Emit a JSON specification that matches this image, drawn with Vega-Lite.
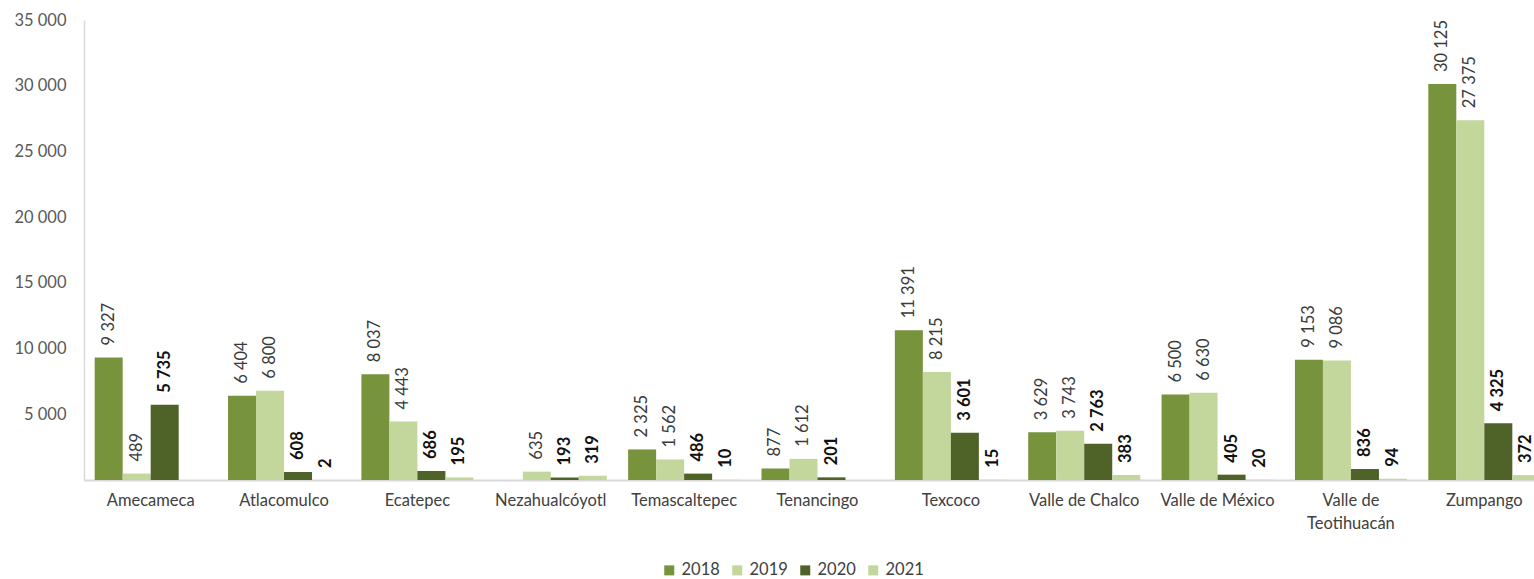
{
  "$schema": "https://vega.github.io/schema/vega-lite/v6.json",
  "autosize": {"type": "none"},
  "padding": {"left": 84, "top": 20, "right": 0, "bottom": 99},
  "width": 1450,
  "height": 460,
  "background": "white",
  "config": {
    "view": {"stroke": null},
    "locale": {"number": {"decimal": ",", "thousands": " ", "grouping": [3], "currency": ["$", ""]}},
    "font": "Lato"
  },
  "data": {
    "values": [
      {"municipio": "Amecameca", "year": "2018", "value": 9327},
      {"municipio": "Amecameca", "year": "2019", "value": 489},
      {"municipio": "Amecameca", "year": "2020", "value": 5735},
      {"municipio": "Atlacomulco", "year": "2018", "value": 6404},
      {"municipio": "Atlacomulco", "year": "2019", "value": 6800},
      {"municipio": "Atlacomulco", "year": "2020", "value": 608},
      {"municipio": "Atlacomulco", "year": "2021", "value": 2},
      {"municipio": "Ecatepec", "year": "2018", "value": 8037},
      {"municipio": "Ecatepec", "year": "2019", "value": 4443},
      {"municipio": "Ecatepec", "year": "2020", "value": 686},
      {"municipio": "Ecatepec", "year": "2021", "value": 195},
      {"municipio": "Nezahualcóyotl", "year": "2019", "value": 635},
      {"municipio": "Nezahualcóyotl", "year": "2020", "value": 193},
      {"municipio": "Nezahualcóyotl", "year": "2021", "value": 319},
      {"municipio": "Temascaltepec", "year": "2018", "value": 2325},
      {"municipio": "Temascaltepec", "year": "2019", "value": 1562},
      {"municipio": "Temascaltepec", "year": "2020", "value": 486},
      {"municipio": "Temascaltepec", "year": "2021", "value": 10},
      {"municipio": "Tenancingo", "year": "2018", "value": 877},
      {"municipio": "Tenancingo", "year": "2019", "value": 1612},
      {"municipio": "Tenancingo", "year": "2020", "value": 201},
      {"municipio": "Texcoco", "year": "2018", "value": 11391},
      {"municipio": "Texcoco", "year": "2019", "value": 8215},
      {"municipio": "Texcoco", "year": "2020", "value": 3601},
      {"municipio": "Texcoco", "year": "2021", "value": 15},
      {"municipio": "Valle de Chalco", "year": "2018", "value": 3629},
      {"municipio": "Valle de Chalco", "year": "2019", "value": 3743},
      {"municipio": "Valle de Chalco", "year": "2020", "value": 2763},
      {"municipio": "Valle de Chalco", "year": "2021", "value": 383},
      {"municipio": "Valle de México", "year": "2018", "value": 6500},
      {"municipio": "Valle de México", "year": "2019", "value": 6630},
      {"municipio": "Valle de México", "year": "2020", "value": 405},
      {"municipio": "Valle de México", "year": "2021", "value": 20},
      {"municipio": "Valle de Teotihuacán", "year": "2018", "value": 9153},
      {"municipio": "Valle de Teotihuacán", "year": "2019", "value": 9086},
      {"municipio": "Valle de Teotihuacán", "year": "2020", "value": 836},
      {"municipio": "Valle de Teotihuacán", "year": "2021", "value": 94},
      {"municipio": "Zumpango", "year": "2018", "value": 30125},
      {"municipio": "Zumpango", "year": "2019", "value": 27375},
      {"municipio": "Zumpango", "year": "2020", "value": 4325},
      {"municipio": "Zumpango", "year": "2021", "value": 372}
    ]
  },
  "encoding": {
    "x": {
      "field": "municipio",
      "type": "nominal",
      "sort": null,
      "scale": {"range": [0, 1467], "paddingInner": 0.16, "paddingOuter": 0.08},
      "axis": {
        "title": null,
        "labelAngle": 0,
        "ticks": false,
        "domainColor": "#D9D9D9",
        "domainWidth": 2,
        "labelFont": "Lato",
        "labelFontSize": 16.5,
        "labelColor": "#404040",
        "labelPadding": 12,
        "labelLineHeight": 23,
        "labelOverlap": false,
        "labelBound": false,
        "labelLimit": 0,
        "labelExpr": "datum.label == 'Valle de Teotihuacán' ? ['Valle de', 'Teotihuacán'] : datum.label"
      }
    },
    "xOffset": {
      "field": "year",
      "type": "nominal",
      "sort": ["2018", "2019", "2020", "2021"],
      "scale": {"paddingInner": 0, "paddingOuter": 0}
    },
    "y": {
      "field": "value",
      "type": "quantitative",
      "scale": {"domain": [0, 35000], "nice": false},
      "axis": {
        "title": null,
        "values": [0, 5000, 10000, 15000, 20000, 25000, 30000, 35000],
        "format": ",d",
        "labelExpr": "datum.value === 0 ? '' : datum.label",
        "grid": false,
        "ticks": false,
        "domainColor": "#D9D9D9",
        "domainWidth": 1.5,
        "labelFont": "Lato",
        "labelFontSize": 16.5,
        "labelColor": "#595959",
        "labelPadding": 18
      }
    }
  },
  "layer": [
    {
      "mark": {"type": "bar"},
      "encoding": {
        "color": {
          "field": "year",
          "type": "nominal",
          "scale": {"domain": ["2018", "2019", "2020", "2021"], "range": ["#77933C", "#C3D69B", "#4F6228", "#C3D69B"]},
          "legend": {
            "title": null,
            "orient": "none",
            "direction": "horizontal",
            "legendX": 577,
            "legendY": 542,
            "symbolType": "square",
            "symbolSize": 100,
            "symbolStrokeWidth": 0,
            "labelFont": "Lato",
            "labelFontSize": 16.5,
            "labelColor": "#404040",
            "labelOffset": 4,
            "columnPadding": 9
          }
        }
      }
    },
    {
      "transform": [{"filter": "datum.year == '2018' || datum.year == '2019'"}],
      "mark": {"type": "text", "angle": 270, "align": "left", "baseline": "middle", "dx": 12, "font": "Lato", "fontSize": 16.5, "color": "#3A3A3A"},
      "encoding": {"text": {"field": "value", "type": "quantitative", "format": ",d"}}
    },
    {
      "transform": [{"filter": "datum.year == '2020' || datum.year == '2021'"}],
      "mark": {"type": "text", "angle": 270, "align": "left", "baseline": "middle", "dx": 12, "font": "Lato", "fontSize": 16.5, "fontWeight": "bold", "color": "#111111"},
      "encoding": {"text": {"field": "value", "type": "quantitative", "format": ",d"}}
    }
  ]
}
